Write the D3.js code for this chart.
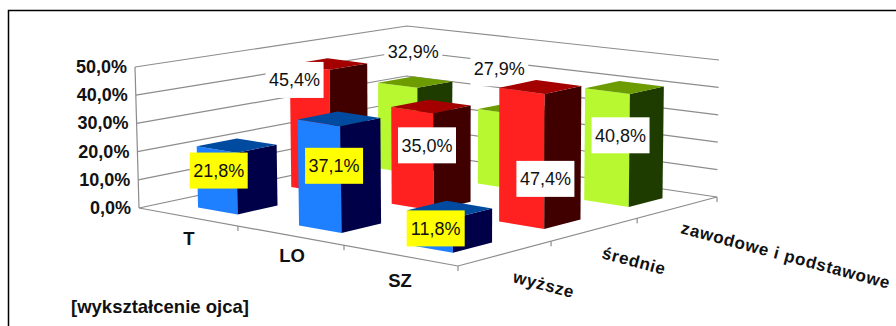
<!DOCTYPE html>
<html>
<head>
<meta charset="utf-8">
<script src="https://cdnjs.cloudflare.com/ajax/libs/d3/7.8.5/d3.min.js"></script>
<style>
  html, body { margin: 0; padding: 0; background: #fff; }
  svg { display: block; }
  text { font-family: "Liberation Sans", Arial, sans-serif; fill: #111; }
</style>
</head>
<body>
<svg id="chart" width="896" height="326"></svg>
<script>
// Chart values
const schoolTypes = ["T", "LO", "SZ"];
const educationLevels = ["wyższe", "średnie", "zawodowe i podstawowe"];
const higherValues = [21.8, 37.1, 11.8];
const secondaryValues = [45.4, 35.0, 47.4];
const vocationalValues = [32.9, 27.9, 40.8];
const valueTicks = [0, 10, 20, 30, 40, 50];
const axisNote = "[wykształcenie ojca]";

// Palette per depth row: lit face, shaded face, cap
const rowColours = [
  { front: "#1f80ff", side: "#000048", top: "#004aa0" },
  { front: "#ff2020", side: "#400000", top: "#a40000" },
  { front: "#b8f830", side: "#1f3c00", top: "#6c9c00" }
];
const rowLabelFill = ["#ffff00", "#ffffff", "#ffffff"];

// Value label centres relative to the projected cap centre of each bar
const labelOffsets = [
  [[-18, 25], [-5, 47], [-14, 19]],
  [[-34, 16], [-4, 39], [5, 92]],
  [[-2, -31], [-17, -40], [-4, 48]]
];

const svg = d3.select("#chart");

// Outer frame, open on the right and bottom
svg.append("path")
  .attr("d", "M8.5,326V10.5H896")
  .attr("fill", "none").attr("stroke", "#000").attr("stroke-width", 1.5);

// Floor corners in the order left, front, right, back
const floorCorners = [[139, 208], [458, 266], [717, 197], [406, 151]];
// Height of the 50 % plane and sideways lean at the same four corners
const cornerHeights = [141, 148, 137, 125];
const cornerLean = [-4, 0, 2, 1];

// Homography taking the unit square to a four-point quad
function quadMap(q) {
  const [[x0, y0], [x1, y1], [x2, y2], [x3, y3]] = q;
  const dx1 = x1 - x2, dx2 = x3 - x2, sx = x0 - x1 + x2 - x3;
  const dy1 = y1 - y2, dy2 = y3 - y2, sy = y0 - y1 + y2 - y3;
  const det = dx1 * dy2 - dx2 * dy1;
  const g = (sx * dy2 - dx2 * sy) / det;
  const h = (dx1 * sy - sx * dy1) / det;
  const a = x1 - x0 + g * x1, b = x3 - x0 + h * x3;
  const d = y1 - y0 + g * y1, e = y3 - y0 + h * y3;
  return (u, v) => {
    const w = g * u + h * v + 1;
    return [(a * u + b * v + x0) / w, (d * u + e * v + y0) / w];
  };
}
const floorMap = quadMap(floorCorners);
const blend = (c, u, v) =>
  c[0] * (1 - u) * (1 - v) + c[1] * u * (1 - v) + c[2] * u * v + c[3] * (1 - u) * v;

const along = d3.scaleBand().domain(schoolTypes).range([0, 1]);
const depth = d3.scaleBand().domain(educationLevels).range([0, 1]);
const height = d3.scaleLinear().domain([0, 50]).range([0, 1]);

function project(u, v, value) {
  const t = height(value);
  const f = floorMap(u, v);
  return [f[0] + blend(cornerLean, u, v) * t, f[1] - blend(cornerHeights, u, v) * t];
}
const line = d3.line();
const poly = pts => line(pts) + "Z";

// Walls: horizontal rules on the left and right walls
const grid = svg.append("g").attr("fill", "none").attr("stroke", "#8c8c8c").attr("stroke-width", 1.2);
valueTicks.forEach(t => {
  grid.append("path").attr("d", line([project(0, 0, t), project(0, 1, t), project(1, 1, t)]));
});
grid.append("path").attr("d", line([project(0, 0, 0), project(0, 0, 50)]));

// Floor edges and their tick marks
grid.append("path").attr("d", line([project(0, 0, 0), project(1, 0, 0), project(1, 1, 0)]));
[1 / 3, 2 / 3, 1].forEach(p => {
  const a = project(p, 0, 0);
  grid.append("path").attr("d", line([a, [a[0], a[1] + 5]]));
});
[1 / 3, 2 / 3, 1].forEach(p => {
  const a = project(1, p, 0);
  grid.append("path").attr("d", line([a, [a[0], a[1] + 5]]));
});

// Value axis labels
valueTicks.forEach(t => {
  const p = project(0, 0, t);
  svg.append("text")
    .attr("x", p[0] - 8).attr("y", p[1] + 6)
    .attr("text-anchor", "end")
    .attr("font-size", 18).attr("font-weight", "bold")
    .text(d3.format(".1f")(t).replace(".", ",") + "%");
});

// Category labels under the front edge
const typeLabelAnchors = [[-49, 19], [-52, 17], [-58, 21]];
schoolTypes.forEach((name, i) => {
  const p = project(along(name) + along.bandwidth(), 0, 0);
  svg.append("text")
    .attr("x", p[0] + typeLabelAnchors[i][0]).attr("y", p[1] + typeLabelAnchors[i][1])
    .attr("text-anchor", "middle")
    .attr("font-size", 18.5).attr("font-weight", "bold")
    .text(name);
});

// Depth labels, slanted under the right edge
const levelLabelStarts = [[512, 282], [601, 258], [680, 233]];
educationLevels.forEach((name, i) => {
  svg.append("text")
    .attr("transform", `translate(${levelLabelStarts[i]}) rotate(15)`)
    .attr("font-size", 17).attr("font-weight", "bold")
    .attr("letter-spacing", 0.7)
    .text(name);
});

svg.append("text")
  .attr("x", 71).attr("y", 313)
  .attr("font-size", 18.5).attr("font-weight", "bold")
  .text(axisNote);

// Bars, back row first, each row followed by its own value labels
const rows = [higherValues, secondaryValues, vocationalValues];
const barShareAlong = 0.4;
const barShareDepth = 0.42;
const barShift = 0.006;
const labels = d3.format(".1f");

[2, 1, 0].forEach(r => {
  const level = educationLevels[r];
  const colours = rowColours[r];
  const rowGroup = svg.append("g");
  schoolTypes.forEach((name, i) => {
    const value = rows[r][i];
    const uc = along(name) + along.bandwidth() / 2 + barShift, vc = depth(level) + depth.bandwidth() / 2;
    const du = along.bandwidth() * barShareAlong / 2, dv = depth.bandwidth() * barShareDepth / 2;
    const u0 = uc - du, u1 = uc + du, v0 = vc - dv, v1 = vc + dv;
    rowGroup.append("path").attr("fill", colours.front)
      .attr("d", poly([project(u0, v0, 0), project(u1, v0, 0), project(u1, v0, value), project(u0, v0, value)]));
    rowGroup.append("path").attr("fill", colours.side)
      .attr("d", poly([project(u1, v0, 0), project(u1, v1, 0), project(u1, v1, value), project(u1, v0, value)]));
    rowGroup.append("path").attr("fill", colours.top)
      .attr("d", poly([project(u0, v0, value), project(u1, v0, value), project(u1, v1, value), project(u0, v1, value)]));
  });
  schoolTypes.forEach((name, i) => {
    const value = rows[r][i];
    const uc = along(name) + along.bandwidth() / 2 + barShift, vc = depth(level) + depth.bandwidth() / 2;
    const c = project(uc, vc, value);
    const cx = c[0] + labelOffsets[r][i][0], cy = c[1] + labelOffsets[r][i][1];
    rowGroup.append("rect")
      .attr("x", cx - 29).attr("y", cy - 18).attr("width", 58).attr("height", 36)
      .attr("fill", rowLabelFill[r]);
    rowGroup.append("text")
      .attr("x", cx).attr("y", cy + 6.5)
      .attr("text-anchor", "middle").attr("font-size", 18)
      .text(labels(value).replace(".", ",") + "%");
  });
});
</script>
</body>
</html>
